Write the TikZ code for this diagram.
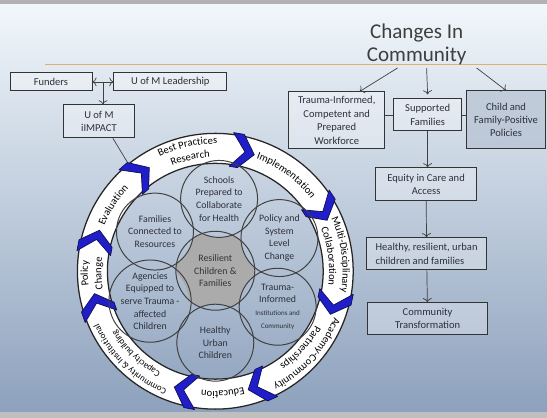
\documentclass[tikz,border=0pt]{standalone}
\usepackage{fontspec}
\setmainfont{Carlito}
\usetikzlibrary{arrows.meta,decorations.text}

\definecolor{chevblue}{RGB}{32,30,200}
\definecolor{chevline}{RGB}{16,16,80}
\definecolor{inktext}{RGB}{45,48,58}
\definecolor{titlegray}{RGB}{62,62,62}
\definecolor{rulegold}{RGB}{222,176,112}
\definecolor{skytop}{RGB}{242,248,252}
\definecolor{skymid}{RGB}{200,214,230}
\definecolor{skybot}{RGB}{140,160,188}
\definecolor{childfill}{RGB}{176,189,206}

\newcommand{\ringfont}{\fontsize{7.5}{9}\selectfont}
\newcommand{\ringsmall}{\fontsize{6.4}{8}\selectfont}

\tikzset{
  box/.style={draw=black!80, line width=0.6pt, fill=white, fill opacity=0.3, text opacity=1,
    text=inktext, align=center, inner sep=1pt, font=\fontsize{7.5}{9.5}\selectfont},
  bubble/.style={circle, draw=black!75, line width=0.7pt, minimum size=1.925cm, inner sep=0pt,
    align=center, text=inktext, font=\fontsize{7}{9}\selectfont},
  chevron/.style={fill=chevblue, draw=chevline, line width=0.5pt, line join=round},
  link/.style={draw=black!75, line width=0.5pt},
}

\begin{document}
\begin{tikzpicture}[x=0.025cm, y=0.025cm, >={To[length=3pt]}]
                \shade [top color=skytop, middle color=skymid, bottom color=skybot] (0,0) rectangle (547,418);
                \fill [black!30] (0,414) rectangle (547,418);
                \fill [black!25] (0,0) rectangle (547,6);
                \draw [rulegold, line width=0.7pt] (45,353) -- (547,353);

                % funding side
                \node [box, minimum width=2.05cm, minimum height=0.45cm] (funders) at (51,336) {Funders};
                \node [box, minimum width=2.825cm, minimum height=0.45cm] (lead) at (170.5,336) {U of M Leadership};
                \node [box, minimum width=1.8cm, minimum height=0.825cm] (impact) at (99,296.5) {U of M\\iIMPACT};
                \draw [link, <->] (funders) -- (lead) coordinate [midway] (fl);
                \draw [link, ->] (fl) -- (fl |- impact.north);

                \coordinate (ring) at (215.5,146.5);
                \coordinate (evalpt) at ([shift={(129:138)}]ring);
                \draw [link] ([xshift=0.35cm]impact.south) -- (evalpt);

                % outer ring
                \fill [white, even odd rule] (ring) circle [radius=138] (ring) circle [radius=108];
                \draw [black!85, line width=0.9pt] (ring) circle [radius=138] (ring) circle [radius=108];
                \foreach \a in {128,77,30,-15,-69,-104,-164,166} {
                  \filldraw [chevron, shift={(ring)}, rotate=\a] (5.5:140) -- (1:140) -- (-5.5:123) -- (1:106) -- (5.5:106) -- (-1:123) -- cycle;
                }

                \path [decorate, decoration={text along path, text align=center, text={|\ringfont|Evaluation}}]
                  ([shift={(166:120)}]ring) arc [start angle=166, end angle=128, radius=120];
                \path [decorate, decoration={text along path, text align=center, text={|\ringfont|Best Practices}}]
                  ([shift={(128:127.5)}]ring) arc [start angle=128, end angle=77, radius=127.5];
                \path [decorate, decoration={text along path, text align=center, text={|\ringfont|Research}}]
                  ([shift={(128:114)}]ring) arc [start angle=128, end angle=77, radius=114];
                \path [decorate, decoration={text along path, text align=center, text={|\ringfont|Implementation}}]
                  ([shift={(77:120)}]ring) arc [start angle=77, end angle=30, radius=120];
                \path [decorate, decoration={text along path, text align=center, text={|\ringfont|Multi-Disciplinary}}]
                  ([shift={(30:127.5)}]ring) arc [start angle=30, end angle=-15, radius=127.5];
                \path [decorate, decoration={text along path, text align=center, text={|\ringfont|Collaboration}}]
                  ([shift={(30:114)}]ring) arc [start angle=30, end angle=-15, radius=114];
                \path [decorate, decoration={text along path, text align=center, text={|\ringfont|Academy-Community}}]
                  ([shift={(-15:127.5)}]ring) arc [start angle=-15, end angle=-69, radius=127.5];
                \path [decorate, decoration={text along path, text align=center, text={|\ringfont|Partnerships}}]
                  ([shift={(-15:114)}]ring) arc [start angle=-15, end angle=-69, radius=114];
                \path [decorate, decoration={text along path, text align=center, text={|\ringfont|Education}}]
                  ([shift={(-69:120)}]ring) arc [start angle=-69, end angle=-104, radius=120];
                \path [decorate, decoration={text along path, text align=center, text={|\ringsmall|Community {\&} Institutional}}]
                  ([shift={(-104:128)}]ring) arc [start angle=-104, end angle=-164, radius=128];
                \path [decorate, decoration={text along path, text align=center, text={|\ringsmall|Capacity building}}]
                  ([shift={(-104:115)}]ring) arc [start angle=-104, end angle=-164, radius=115];
                \path [decorate, decoration={text along path, text align=center, text={|\ringfont|Policy}}]
                  ([shift={(196:127.5)}]ring) arc [start angle=196, end angle=166, radius=127.5];
                \path [decorate, decoration={text along path, text align=center, text={|\ringfont|Change}}]
                  ([shift={(196:114)}]ring) arc [start angle=196, end angle=166, radius=114];

                % inner circles
                \coordinate (mid) at (215.5,147);
                \coordinate (p1) at (219.3,218.9);
                \coordinate (p2) at (279.7,179.7);
                \coordinate (p3) at (277.9,111);
                \coordinate (p4) at (215.5,75);
                \coordinate (p5) at (150.2,116.6);
                \coordinate (p6) at (155.1,186.2);
                \begin{scope}
                  \clip (mid) circle [radius=39.5];
                  \fill [black!33, even odd rule] (mid) circle [radius=39.5] (p1) circle [radius=38.5] (p2) circle [radius=38.5]
                    (p3) circle [radius=38.5] (p4) circle [radius=38.5] (p5) circle [radius=38.5] (p6) circle [radius=38.5];
                \end{scope}
                \node [bubble] (schools) at (p1) {Schools\\Prepared to\\Collaborate\\for Health};
                \node [bubble] (policy) at (p2) {Policy and\\System\\Level\\Change};
                \node [bubble] (trinst) at (p3) {Trauma-\\Informed\\{\fontsize{5}{6}\selectfont Institutions and}\\{\fontsize{5}{6}\selectfont Community}};
                \node [bubble] (urban) at (p4) {Healthy\\Urban\\Children};
                \node [bubble] (agencies) at (p5) {Agencies\\Equipped to\\serve Trauma -\\affected\\Children};
                \node [bubble] (families) at (p6) {Families\\Connected to\\Resources};
                \node [bubble, minimum size=1.975cm, text=black!80] (core) at (mid) {Resilient\\Children \&\\Families};

                % community side
                \node [font=\fontsize{15}{16.5}\selectfont, text=titlegray, align=center] (title) at (417,373.5) {Changes In\\Community};
                \node [box, minimum width=2.4cm, minimum height=1.425cm] (trauma) at (337,297.5) {Trauma-Informed,\\Competent and\\Prepared\\Workforce};
                \node [box, minimum width=1.7cm, minimum height=0.8cm] (supp) at (428,303) {Supported\\Families};
                \node [box, minimum width=1.975cm, minimum height=1.45cm, fill=childfill, fill opacity=0.6] (child) at (506.5,298) {Child and\\Family-Positive\\Policies};
                \node [box, minimum width=2.525cm, minimum height=0.825cm] (equity) at (426.5,233.5) {Equity in Care and\\Access};
                \node [box, minimum width=3cm, minimum height=0.8cm, align=left] (well) at (427,164) {Healthy, resilient, urban\\children and families};
                \node [box, minimum width=3cm, minimum height=0.8cm] (trans) at (428,99) {Community\\Transformation};

                \coordinate (t1) at (398,350);
                \coordinate (t2) at (427,350);
                \coordinate (t3) at (477,350);
                \draw [link, ->] (t1) -- ([xshift=0.575cm]trauma.north);
                \draw [link, ->] (t2) -- ([yshift=0.1cm]supp.north);
                \draw [link, ->] (t3) -- (child.north);
                \draw [link] (supp.west) -- (supp.west -| trauma.east);
                \draw [link] (supp.east) -- (supp.east -| child.west);
                \draw [link, ->] (supp.south) -- (supp.south |- equity.north);
                \draw [link, ->] (equity) -- (well);
                \draw [link, ->] (well) -- (trans);
\end{tikzpicture}
\end{document}
